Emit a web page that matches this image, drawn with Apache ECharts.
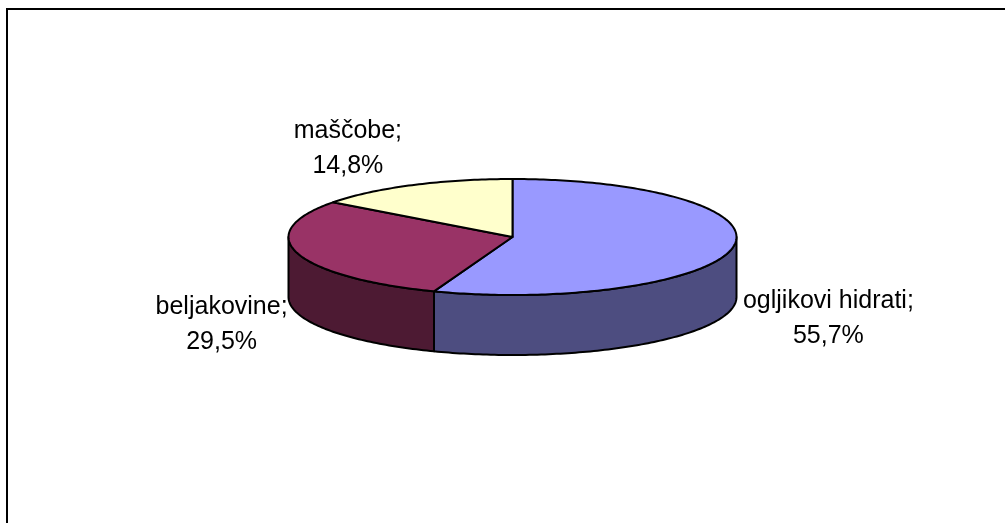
<!DOCTYPE html>
<html>
<head>
<meta charset="utf-8">
<script src="https://cdn.jsdelivr.net/npm/echarts@6/dist/echarts.min.js"></script>
<style>
html, body { margin: 0; padding: 0; background: #fff; }
#chart { width: 1005px; height: 523px; }
</style>
</head>
<body>
<div id="chart"></div>
<script>
// ---- data ----
const categories = ['ogljikovi hidrati', 'beljakovine', 'maščobe'];
const values = [55.7, 29.5, 14.8];

// ---- styles / layout ----
const topColors = ['#9999FF', '#993366', '#FFFFCC'];
const sideColors = ['#4D4D80', '#4D1A33', '#80806A'];
const CX = 512.5, CY = 237, RX = 224, RY = 58, DEPTH = 60;
const FONT = '25px "Liberation Sans", Arial, sans-serif';
const LINE_H = 35;
const GAP_X = 10, GAP_Y = 4;

const total = values.reduce((a, b) => a + b, 0);
const measureCtx = document.createElement('canvas').getContext('2d');
measureCtx.font = FONT;

function pt(aDeg, dy) {
  const a = aDeg * Math.PI / 180;
  return [CX + RX * Math.sin(a), CY - RY * Math.cos(a) + dy];
}
function arc(s, e, dy) {
  const pts = [];
  const n = Math.max(2, Math.ceil((e - s) / 1));
  for (let k = 0; k <= n; k++) pts.push(pt(s + (e - s) * k / n, dy));
  return pts;
}

function renderItem(params, api) {
  const i = params.dataIndex;
  let before = 0;
  for (let k = 0; k < i; k++) before += values[k];
  const v = api.value(0);
  const start = before / total * 360;
  const end = start + v / total * 360;
  const children = [];

  // side wall (front half only)
  const s = Math.max(start, 90), e = Math.min(end, 270);
  if (s < e) {
    const topArc = arc(s, e, 0);
    const botArc = arc(s, e, DEPTH).reverse();
    children.push({
      type: 'polygon', z2: 1,
      shape: { points: topArc.concat(botArc) },
      style: { fill: sideColors[i], stroke: '#000', lineWidth: 2, lineJoin: 'round' }
    });
  }
  // top face
  children.push({
    type: 'polygon', z2: 2,
    shape: { points: [[CX, CY]].concat(arc(start, end, 0)) },
    style: { fill: topColors[i], stroke: '#000', lineWidth: 2, lineJoin: 'round' }
  });

  // label
  const pct = (v / total * 100).toFixed(1).replace('.', ',') + '%';
  const lines = [categories[i] + ';', pct];
  const w = Math.max.apply(null, lines.map(l => measureCtx.measureText(l).width));
  const h = LINE_H * lines.length;
  const mid = (start + end) / 2;
  const ma = mid * Math.PI / 180;
  const front = Math.cos(ma) < 0;
  const anchor = pt(mid, front ? DEPTH / 2 : 0);
  const sx = Math.sin(ma) >= 0 ? 1 : -1;
  const sy = front ? 1 : -1;
  children.push({
    type: 'text', z2: 3,
    style: {
      text: lines.join('\n'),
      x: anchor[0] + sx * (w / 2 + GAP_X),
      y: anchor[1] + sy * (h / 2 + GAP_Y) + 2,
      align: 'center', verticalAlign: 'middle',
      font: FONT, lineHeight: LINE_H, fill: '#000'
    }
  });
  return { type: 'group', children: children };
}

const chart = echarts.init(document.getElementById('chart'), null, { renderer: 'canvas' });
chart.setOption({
  backgroundColor: '#fff',
  animation: false,
  graphic: [{
    type: 'rect', silent: true,
    shape: { x: 7, y: 9, width: 1000, height: 600 },
    style: { fill: 'none', stroke: '#000', lineWidth: 2 }
  }],
  series: [{
    type: 'custom',
    coordinateSystem: 'none',
    renderItem: renderItem,
    data: values.map((v, i) => ({ name: categories[i], value: v }))
  }]
});
</script>
</body>
</html>
